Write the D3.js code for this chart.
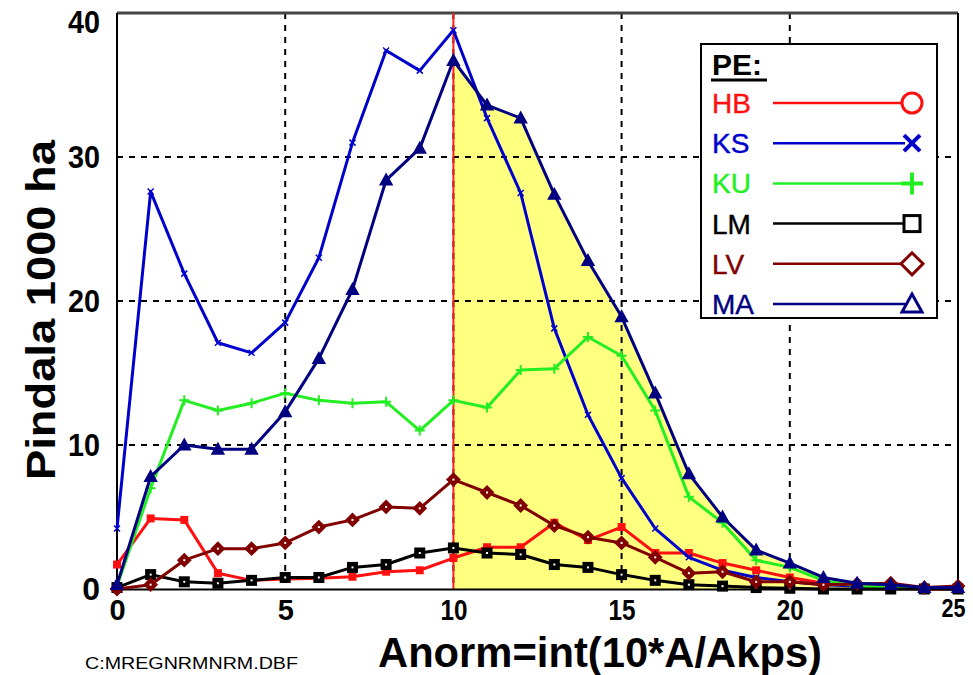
<!DOCTYPE html>
<html>
<head>
<meta charset="utf-8">
<script src="https://cdn.jsdelivr.net/npm/d3@7"></script>
<style>
  html, body { margin: 0; padding: 0; background: #fff; }
  svg { display: block; font-family: "Liberation Sans", Arial, sans-serif; }
</style>
</head>
<body>
<svg id="chart" width="973" height="675"></svg>
<script>
// Anorm classes (x) and areas in 1000 ha for each PE group
const anorm = [0,1,2,3,4,5,6,7,8,9,10,11,12,13,14,15,16,17,18,19,20,21,22,23,24,25];
const HB = [1.7,4.9,4.8,1.1,0.6,0.7,0.75,0.85,1.2,1.3,2.15,2.9,2.9,4.6,3.4,4.3,2.5,2.5,1.8,1.3,0.8,0.4,0.2,0.1,0,0];
const KS = [4.2,27.6,21.9,17.1,16.4,18.5,23.0,31.0,37.4,36.0,38.8,32.7,27.5,18.1,12.1,7.7,4.2,2.2,1.3,0.8,0.5,0.3,0.2,0.1,0.05,0];
const KU = [0.2,7.0,13.1,12.4,12.9,13.6,13.1,12.9,13.0,11.0,13.1,12.6,15.2,15.3,17.5,16.2,12.4,6.4,4.6,2.0,1.5,0.6,0.2,0.1,0.1,0];
const LM = [0.1,1.0,0.5,0.4,0.6,0.8,0.8,1.5,1.7,2.5,2.85,2.5,2.4,1.7,1.5,1.0,0.6,0.3,0.2,0.1,0.05,0,0,0,0,0];
const LV = [0,0.3,2.0,2.8,2.8,3.2,4.3,4.8,5.7,5.6,7.6,6.7,5.8,4.4,3.6,3.2,2.2,1.1,1.2,0.5,0.5,0.3,0.35,0.4,0.1,0.2];
const MA = [0.3,7.8,10.0,9.7,9.7,12.3,16.0,20.8,28.4,30.6,36.7,33.6,32.7,27.4,22.8,18.9,13.6,8.0,5.0,2.7,1.8,0.8,0.4,0.3,0.1,0.1];

const seriesNames = ["HB","KS","KU","LM","LV","MA"];
const seriesValues = [HB, KS, KU, LM, LV, MA];
const seriesColors = ["#ff1010","#0000cc","#22ee22","#000000","#800000","#000080"];
const seriesMarkers = ["circle","cross","plus","square","diamond","triangle"];

const xTicks = [0,5,10,15,20,25];
const yTicks = [0,10,20,30,40];
const threshold = 10;

const svg = d3.select("#chart");
const x = d3.scaleLinear().domain([0,25]).range([117,958]);
const y = d3.scaleLinear().domain([0,40]).range([589,13]);

// shaded area under MA from the threshold onwards
const fillData = anorm.map((a,i)=>({a, v: MA[i]})).filter(d => d.a >= threshold);
svg.append("path")
  .datum(fillData)
  .attr("fill", "#ffff80")
  .attr("d", d3.area().x(d=>x(d.a)).y0(y(0)).y1(d=>y(d.v)));

// dashed grid
const grid = svg.append("g").attr("stroke","#000").attr("stroke-width",2).attr("stroke-dasharray","6,6");
xTicks.filter(t => t>0 && t<25).forEach(t => {
  grid.append("line").attr("x1",x(t)).attr("x2",x(t)).attr("y1",y(40)).attr("y2",y(0));
});
yTicks.filter(t => t>0 && t<40).forEach(t => {
  grid.append("line").attr("x1",x(0)).attr("x2",x(25)).attr("y1",y(t)).attr("y2",y(t));
});

// frame
svg.append("line").attr("x1",x(0)).attr("x2",x(25)).attr("y1",y(40)).attr("y2",y(40)).attr("stroke","#444").attr("stroke-width",3);
svg.append("line").attr("x1",x(0)).attr("x2",x(0)).attr("y1",y(40)).attr("y2",y(0)).attr("stroke","#000").attr("stroke-width",2);
svg.append("line").attr("x1",x(25)).attr("x2",x(25)).attr("y1",y(40)).attr("y2",y(0)).attr("stroke","#000").attr("stroke-width",2);

// threshold line
svg.append("line").attr("x1",x(threshold)).attr("x2",x(threshold)).attr("y1",y(40)).attr("y2",y(0))
  .attr("stroke","#ff2020").attr("stroke-width",2);

// x axis
const xAxis = svg.append("g").attr("transform",`translate(0,${y(0)})`)
  .call(d3.axisBottom(x).tickValues(xTicks).tickSize(0).tickPadding(10).tickFormat(d3.format("d")));
xAxis.select(".domain").attr("stroke","#000").attr("stroke-width",2);
xAxis.selectAll("text").attr("font-size",29).attr("font-weight","bold").attr("fill","#000")
  .attr("font-family","'Liberation Sans', Arial, sans-serif").attr("dy","0.72em")
  .each(function(d){
    const t = d3.select(this);
    if (String(d).length > 1) t.attr("textLength",27).attr("lengthAdjust","spacingAndGlyphs");
    // last label kept inside the page edge
    if (d === 25) t.attr("text-anchor","end").attr("font-size",25).attr("textLength",24).attr("dx",7);
  });

// y axis
const yAxis = svg.append("g").attr("transform",`translate(${x(0)},0)`)
  .call(d3.axisLeft(y).tickValues(yTicks).tickSize(0).tickPadding(17).tickFormat(d3.format("d")));
yAxis.select(".domain").remove();
yAxis.selectAll("text").attr("font-size",32).attr("font-weight","bold").attr("fill","#000")
  .attr("font-family","'Liberation Sans', Arial, sans-serif")
  .each(function(d){
    const t = d3.select(this);
    if (String(d).length > 1) t.attr("textLength",32).attr("lengthAdjust","spacingAndGlyphs");
    if (d === 40) t.attr("dy","0.62em");
  });

// marker drawing
function marker(g, type, cx, cy, color, s, legend) {
  const sw = legend ? 3 : 2;
  if (type === "circle") {
    if (legend) g.append("circle").attr("cx",cx).attr("cy",cy).attr("r",s).attr("fill","#fff").attr("stroke",color).attr("stroke-width",sw);
    else g.append("rect").attr("x",cx-s).attr("y",cy-s).attr("width",2*s).attr("height",2*s).attr("fill",color);
  } else if (type === "cross") {
    g.append("path").attr("d",`M${cx-s},${cy-s}L${cx+s},${cy+s}M${cx-s},${cy+s}L${cx+s},${cy-s}`).attr("stroke",color).attr("stroke-width",legend?4:1.5);
  } else if (type === "plus") {
    g.append("path").attr("d",`M${cx-s},${cy}L${cx+s},${cy}M${cx},${cy-s}L${cx},${cy+s}`).attr("stroke",color).attr("stroke-width",legend?4:2);
  } else if (type === "square") {
    g.append("rect").attr("x",cx-s).attr("y",cy-s).attr("width",2*s).attr("height",2*s)
      .attr("fill",legend?"#fff":color).attr("stroke",color).attr("stroke-width",sw);
    if (!legend) g.append("rect").attr("x",cx-1).attr("y",cy-1).attr("width",2).attr("height",2).attr("fill","#fff");
  } else if (type === "diamond") {
    g.append("path").attr("d",`M${cx-s},${cy}L${cx},${cy-s}L${cx+s},${cy}L${cx},${cy+s}Z`)
      .attr("fill",legend?"#fff":color).attr("stroke",color).attr("stroke-width",sw);
    if (!legend) g.append("rect").attr("x",cx-1).attr("y",cy-1).attr("width",2).attr("height",2).attr("fill","#fff");
  } else if (type === "triangle") {
    g.append("path").attr("d",`M${cx-s},${cy+s*0.8}L${cx},${cy-s}L${cx+s},${cy+s*0.8}Z`)
      .attr("fill",legend?"#fff":color).attr("stroke",color).attr("stroke-width",sw);
  }
}

const markerSize = {circle:4, cross:3, plus:5, square:4.5, diamond:6, triangle:5.5};

// series lines and markers
const line = d3.line().x((d,i)=>x(anorm[i])).y(d=>y(d));
seriesNames.forEach((name, k) => {
  const g = svg.append("g");
  g.append("path").datum(seriesValues[k]).attr("fill","none")
    .attr("stroke",seriesColors[k]).attr("stroke-width",3).attr("stroke-linejoin","round")
    .attr("d", line);
  seriesValues[k].forEach((v,i) => marker(g, seriesMarkers[k], x(anorm[i]), y(v), seriesColors[k], markerSize[seriesMarkers[k]], false));
});

// legend
const lg = svg.append("g");
lg.append("rect").attr("x",701).attr("y",44).attr("width",236).attr("height",274)
  .attr("fill","#fff").attr("stroke","#000").attr("stroke-width",2);
lg.append("text").attr("x",712).attr("y",75).text("PE:")
  .attr("font-size",30).attr("font-weight","bold").attr("fill","#000");
lg.append("line").attr("x1",711).attr("x2",767).attr("y1",80).attr("y2",80).attr("stroke","#000").attr("stroke-width",3);
const legendMarkerSize = {circle:10, cross:8, plus:11, square:8, diamond:11, triangle:10};
seriesNames.forEach((name,k) => {
  const cy = 103 + k*40.2;
  lg.append("text").attr("x",712).attr("y",cy+10).text(name)
    .attr("font-size",28).attr("fill",seriesColors[k]).attr("stroke",seriesColors[k]).attr("stroke-width",0.4);
  lg.append("line").attr("x1",773).attr("x2",905).attr("y1",cy).attr("y2",cy)
    .attr("stroke",seriesColors[k]).attr("stroke-width",2.5);
  marker(lg, seriesMarkers[k], 912, cy, seriesColors[k], legendMarkerSize[seriesMarkers[k]], true);
});

// axis titles
svg.append("text").attr("x",600).attr("y",667).attr("text-anchor","middle")
  .attr("font-size",42).attr("font-weight","bold").attr("fill","#000")
  .attr("textLength",444).attr("lengthAdjust","spacingAndGlyphs")
  .text("Anorm=int(10*A/Akps)");
svg.append("text").attr("transform","translate(55,310) rotate(-90)").attr("text-anchor","middle")
  .attr("font-size",40).attr("font-weight","bold").attr("fill","#000")
  .attr("textLength",340).attr("lengthAdjust","spacingAndGlyphs")
  .text("Pindala 1000 ha");
svg.append("text").attr("x",85).attr("y",669)
  .attr("font-size",16).attr("fill","#000")
  .attr("textLength",213).attr("lengthAdjust","spacingAndGlyphs")
  .text("C:MREGNRMNRM.DBF");
</script>
</body>
</html>
